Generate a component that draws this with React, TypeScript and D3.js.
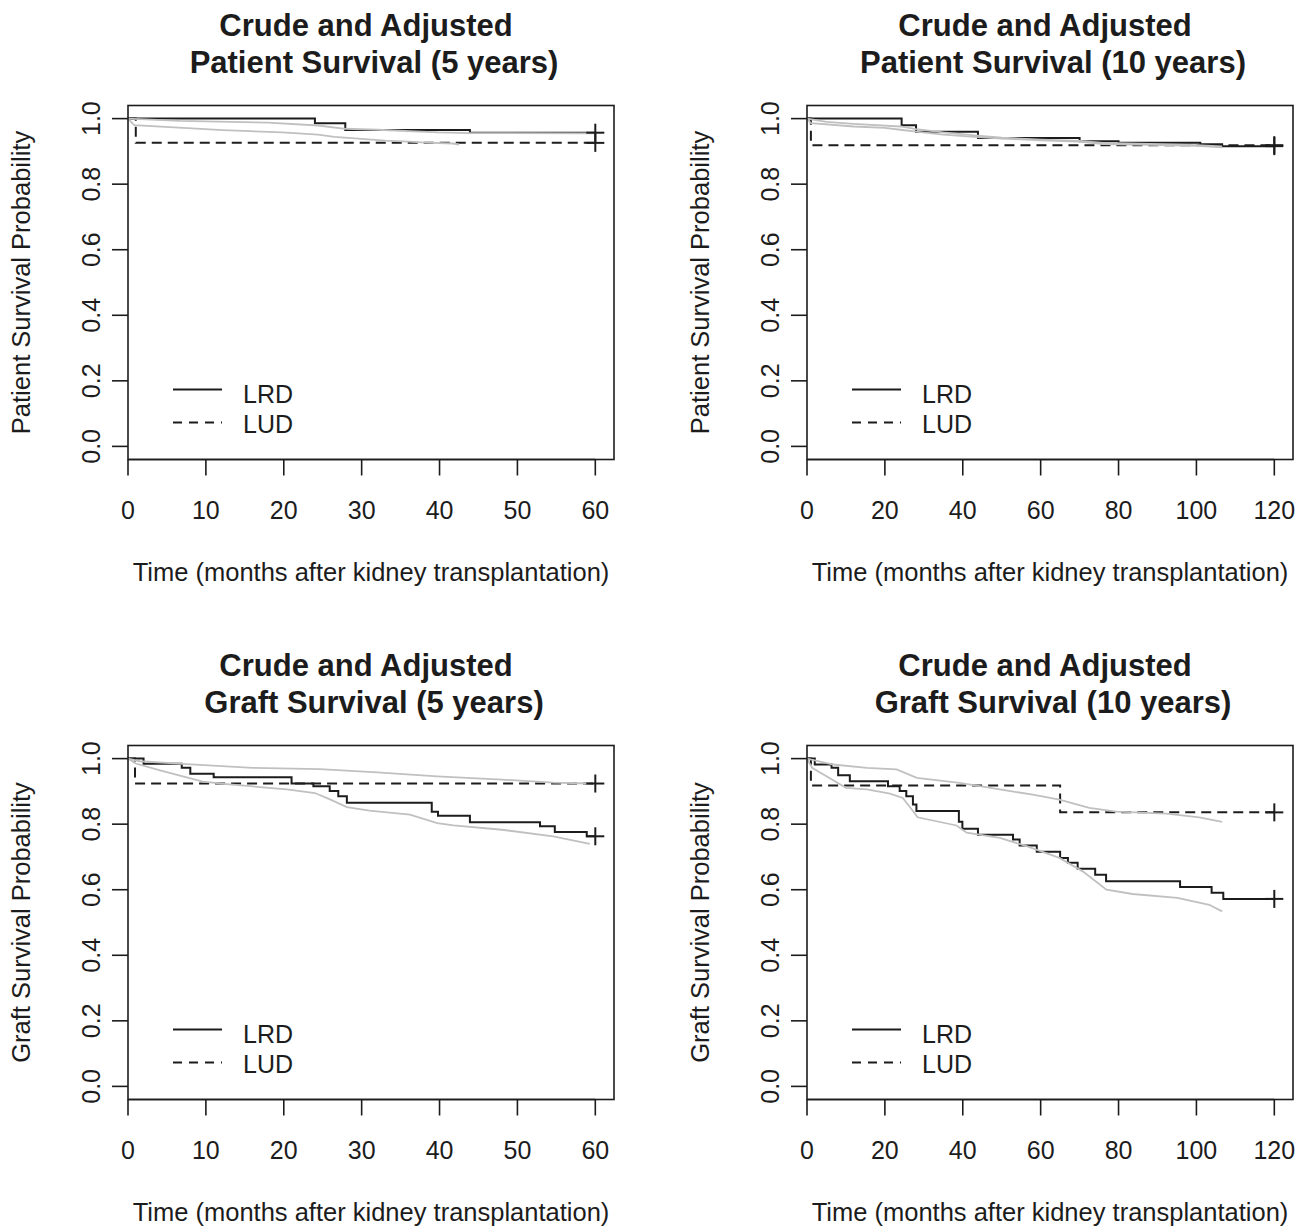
import React from 'react';
import * as d3 from 'd3';

// ---- data (time in months, survival probability) ----
const yTicks = [0, 0.2, 0.4, 0.6, 0.8, 1.0];
const xTicks5y = [0, 10, 20, 30, 40, 50, 60];
const xTicks10y = [0, 20, 40, 60, 80, 100, 120];
const legendLabels = ['LRD', 'LUD'];

// patient survival, 5 years
const pat5Lrd = [[0, 1], [24.0, 0.986], [27.9, 0.965], [43.9, 0.957], [60, 0.957]];
const pat5Lud = [[0, 1], [1.0, 0.926], [60, 0.926]];
const pat5AdjA = [[0, 1], [6.7, 0.993], [18, 0.988], [24.4, 0.979], [27.9, 0.969], [32, 0.966], [39.8, 0.958], [44, 0.956], [60, 0.955]];
const pat5AdjB = [[0, 1], [0.8, 0.98], [4.8, 0.975], [12.2, 0.965], [19.8, 0.958], [24.4, 0.951], [26.5, 0.944], [30, 0.938], [33, 0.933], [36, 0.93], [38.2, 0.927], [41.7, 0.924], [42.5, 0.921]];

// patient survival, 10 years
const pat10Lrd = [[0, 1], [24.3, 0.98], [28, 0.96], [43.9, 0.941], [70, 0.931], [80, 0.926], [101, 0.922], [106.6, 0.916], [120, 0.916]];
const pat10Lud = [[0, 1], [1.0, 0.919], [120, 0.919]];
const pat10AdjA = [[0, 1], [5, 0.99], [12, 0.984], [24, 0.976], [28, 0.968], [35, 0.958], [43, 0.949], [50, 0.942], [60, 0.936], [70, 0.932], [76, 0.926], [88, 0.923], [100, 0.919], [106.6, 0.915]];
const pat10AdjB = [[0, 1], [1, 0.986], [12, 0.976], [20, 0.972], [24, 0.966], [28, 0.96], [35, 0.951], [42, 0.945], [50, 0.939], [60, 0.934], [70, 0.93], [76, 0.922], [88, 0.92], [100, 0.917], [106.6, 0.912]];

// graft survival, 5 years
const graft5Lrd = [[0, 1], [2.0, 0.984], [6.9, 0.972], [8, 0.954], [11, 0.943], [21, 0.924], [23.8, 0.916], [25.9, 0.901], [27, 0.885], [28.1, 0.865], [39, 0.838], [39.8, 0.826], [43.9, 0.806], [52.9, 0.794], [54.8, 0.776], [58.9, 0.763], [60, 0.763]];
const graft5Lud = [[0, 1], [0.9, 0.924], [60, 0.924]];
const graft5AdjA = [[0, 1], [1.5, 0.992], [7, 0.984], [16, 0.972], [24.6, 0.968], [32, 0.958], [39.7, 0.946], [48, 0.936], [54.6, 0.927], [59.3, 0.924]];
const graft5AdjB = [[0, 1], [1, 0.985], [4, 0.965], [9.6, 0.93], [12.7, 0.922], [20.4, 0.906], [24, 0.895], [26, 0.875], [28.1, 0.852], [31, 0.841], [36.2, 0.829], [39.7, 0.803], [41.8, 0.796], [48, 0.783], [54.6, 0.763], [59.3, 0.74]];

// graft survival, 10 years
const graft10Lrd = [[0, 1], [2, 0.982], [6.3, 0.972], [8, 0.949], [11, 0.931], [20.8, 0.916], [23.8, 0.901], [25.5, 0.885], [27.2, 0.86], [28.1, 0.84], [39, 0.807], [39.9, 0.786], [43.9, 0.768], [52.9, 0.753], [54.6, 0.735], [59, 0.716], [65, 0.697], [67, 0.682], [69.5, 0.664], [74, 0.646], [76.8, 0.626], [95.8, 0.608], [103.9, 0.591], [106.9, 0.572], [120, 0.572]];
const graft10Lud = [[0, 1], [1.0, 0.918], [65, 0.836], [120, 0.836]];
const graft10AdjA = [[0, 1], [6.7, 0.982], [15.4, 0.972], [23, 0.967], [28.2, 0.941], [39.2, 0.926], [49.5, 0.906], [58, 0.89], [64.8, 0.875], [72.5, 0.85], [79.4, 0.838], [92.3, 0.832], [100.7, 0.821], [106.6, 0.807]];
const graft10AdjB = [[0, 1], [1.3, 0.972], [5, 0.946], [10, 0.911], [15.4, 0.906], [21.3, 0.893], [24.6, 0.88], [27.2, 0.84], [28.4, 0.821], [38.4, 0.796], [41, 0.774], [49.5, 0.758], [56.4, 0.733], [64.8, 0.697], [70.8, 0.656], [76.9, 0.6], [83.6, 0.587], [95.1, 0.575], [103.3, 0.554], [106.6, 0.534]];

const panels = [
  { title: 'Patient Survival (5 years)', ylab: 'Patient Survival Probability', xmax: 60, ticks: xTicks5y, lrd: pat5Lrd, lud: pat5Lud, adj: [pat5AdjA, pat5AdjB], col: 0, row: 0 },
  { title: 'Patient Survival (10 years)', ylab: 'Patient Survival Probability', xmax: 120, ticks: xTicks10y, lrd: pat10Lrd, lud: pat10Lud, adj: [pat10AdjA, pat10AdjB], col: 1, row: 0 },
  { title: 'Graft Survival (5 years)', ylab: 'Graft Survival Probability', xmax: 60, ticks: xTicks5y, lrd: graft5Lrd, lud: graft5Lud, adj: [graft5AdjA, graft5AdjB], col: 0, row: 1 },
  { title: 'Graft Survival (10 years)', ylab: 'Graft Survival Probability', xmax: 120, ticks: xTicks10y, lrd: graft10Lrd, lud: graft10Lud, adj: [graft10AdjA, graft10AdjB], col: 1, row: 1 },
];

const FONT = '"Liberation Sans", Arial, Helvetica, sans-serif';
const INK = '#1c1c1c';
const GREY = '#c0c0c0';
const DASH = '10,6';

function Panel({ p }) {
  const left = 128 + p.col * 679;
  const top = 105.5 + p.row * 640;
  const w = 486;
  const h = 354;
  const bottom = top + h;

  const x = d3.scaleLinear().domain([0, p.xmax * 1.04]).range([left, left + w]);
  const y = d3.scaleLinear().domain([-0.04, 1.04]).range([bottom, top]);

  const step = d3.line().x((d) => x(d[0])).y((d) => y(d[1])).curve(d3.curveStepAfter);
  const smooth = d3.line().x((d) => x(d[0])).y((d) => y(d[1]));

  const cx = left + w / 2;
  const ends = [p.lrd[p.lrd.length - 1], p.lud[p.lud.length - 1]];

  return (
    <g>
      {/* title */}
      <text x={cx - 5} y={top - 70} textAnchor="middle" fontSize={31} fontWeight="bold" fill={INK}>Crude and Adjusted</text>
      <text x={cx + 3} y={top - 33} textAnchor="middle" fontSize={31} fontWeight="bold" fill={INK}>{p.title}</text>

      {/* crude KM curves */}
      <path d={step(p.lrd)} fill="none" stroke={INK} strokeWidth={2} />
      <path d={step(p.lud)} fill="none" stroke={INK} strokeWidth={2} strokeDasharray={DASH} />
      {/* adjusted curves */}
      {p.adj.map((a, i) => (
        <path key={i} d={smooth(a)} fill="none" stroke={GREY} strokeWidth={1.8} />
      ))}
      {/* censor marks */}
      {ends.map((d, i) => (
        <g key={'c' + i} stroke={INK} strokeWidth={2}>
          <line x1={x(d[0]) - 9} x2={x(d[0]) + 9} y1={y(d[1])} y2={y(d[1])} />
          <line x1={x(d[0])} x2={x(d[0])} y1={y(d[1]) - 9} y2={y(d[1]) + 9} />
        </g>
      ))}

      {/* box */}
      <rect x={left} y={top} width={w} height={h} fill="none" stroke={INK} strokeWidth={1.6} />

      {/* y axis */}
      {yTicks.map((t) => (
        <g key={'y' + t}>
          <line x1={left - 16} x2={left} y1={y(t)} y2={y(t)} stroke={INK} strokeWidth={1.6} />
          <text transform={`translate(${left - 28},${y(t)}) rotate(-90)`} textAnchor="middle" fontSize={25} fill={INK}>{t.toFixed(1)}</text>
        </g>
      ))}
      <text transform={`translate(${left - 98},${(top + bottom) / 2}) rotate(-90)`} textAnchor="middle" fontSize={25.5} fill={INK}>{p.ylab}</text>

      {/* x axis */}
      <line x1={x(0)} x2={x(p.xmax)} y1={bottom} y2={bottom} stroke={INK} strokeWidth={1.6} />
      {p.ticks.map((t) => (
        <g key={'x' + t}>
          <line x1={x(t)} x2={x(t)} y1={bottom} y2={bottom + 16} stroke={INK} strokeWidth={1.6} />
          <text x={x(t)} y={bottom + 59.5} textAnchor="middle" fontSize={25} fill={INK}>{t}</text>
        </g>
      ))}
      <text x={cx} y={bottom + 121} textAnchor="middle" fontSize={25.5} fill={INK}>Time (months after kidney transplantation)</text>

      {/* legend */}
      {legendLabels.map((lab, i) => (
        <g key={lab}>
          <line x1={left + 45} x2={left + 94} y1={top + 284 + i * 33} y2={top + 284 + i * 33} stroke={INK} strokeWidth={2} strokeDasharray={i === 1 ? '9,7' : undefined} />
          <text x={left + 115} y={top + 297.5 + i * 30} fontSize={25} fill={INK}>{lab}</text>
        </g>
      ))}
    </g>
  );
}

export default function App() {
  return (
    <div style={{ position: 'absolute', left: 0, top: 0 }}>
      <svg width={1303} height={1227} style={{ display: 'block', background: '#fff', fontFamily: FONT }}>
        {panels.map((p, i) => (
          <Panel key={i} p={p} />
        ))}
      </svg>
    </div>
  );
}
